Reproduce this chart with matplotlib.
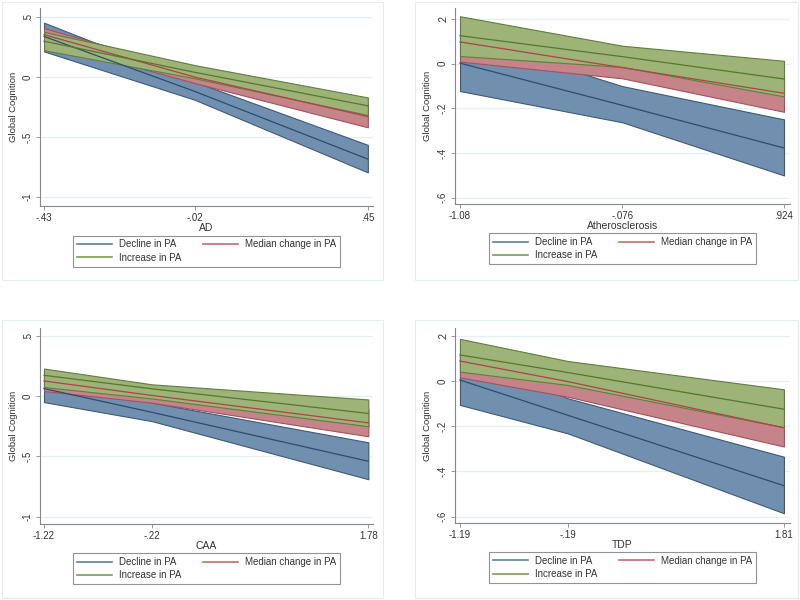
import matplotlib
matplotlib.use("Agg")
import matplotlib.pyplot as plt
from matplotlib.patches import Rectangle
from matplotlib.lines import Line2D

plt.rcParams['font.family'] = ['Liberation Sans', 'DejaVu Sans']

# ---- data ----
groups = ["Decline in PA", "Median change in PA", "Increase in PA"]

ad_x = [-0.43, -0.02, 0.45]
ad_mean = {"dec": [0.34, -0.12, -0.686], "med": [0.355, 0.0, -0.33], "inc": [0.30, 0.04, -0.24]}
ad_lo = {"dec": [0.215, -0.19, -0.797], "med": [0.295, -0.05, -0.42], "inc": [0.225, -0.01, -0.317]}
ad_hi = {"dec": [0.455, -0.04, -0.567], "med": [0.41, 0.05, -0.24], "inc": [0.378, 0.10, -0.17]}

ath_x = [-1.08, -0.076, 0.924]
ath_mean = {"dec": [0.003, -0.186, -0.377], "med": [0.098, -0.017, -0.132], "inc": [0.126, 0.032, -0.068]}
ath_lo = {"dec": [-0.122, -0.262, -0.50], "med": [0.01, -0.065, -0.215], "inc": [0.035, -0.014, -0.146]}
ath_hi = {"dec": [0.128, -0.10, -0.249], "med": [0.186, 0.03, -0.05], "inc": [0.213, 0.081, 0.0135]}

caa_x = [-1.22, -0.22, 1.78]
caa_mean = {"dec": [0.062, -0.135, -0.54], "med": [0.125, 0.005, -0.222], "inc": [0.172, 0.06, -0.144]}
caa_lo = {"dec": [-0.05, -0.208, -0.689], "med": [0.042, -0.055, -0.333], "inc": [0.075, -0.02, -0.25]}
caa_hi = {"dec": [0.174, -0.055, -0.383], "med": [0.21, 0.06, -0.11], "inc": [0.228, 0.097, -0.028]}

tdp_x = [-1.19, -0.19, 1.81]
tdp_mean = {"dec": [0.004, -0.152, -0.463], "med": [0.088, -0.003, -0.207], "inc": [0.115, 0.037, -0.125]}
tdp_lo = {"dec": [-0.106, -0.232, -0.585], "med": [0.016, -0.07, -0.29], "inc": [0.041, -0.018, -0.205]}
tdp_hi = {"dec": [0.114, -0.077, -0.335], "med": [0.16, 0.065, -0.12], "inc": [0.186, 0.088, -0.037]}

fill_col = {"dec": "#7190b0", "med": "#c4848a", "inc": "#9db378"}
edge_col = {"dec": "#3d5a7a", "med": "#a8505a", "inc": "#5f7f3c"}
line_col = {"dec": "#2e4d6e", "med": "#b0424c", "inc": "#56772f"}
leg_col = {"dec": "#5e7fa3", "med": "#c86a72", "inc": "#7d9b54"}


def panel(rect, x, mean, lo, hi, xlabel, yticks, ytick_labels, xlim, ylim):
    ax = fig.add_axes(rect)
    for k in ["dec", "med", "inc"]:
        ax.fill_between(x, lo[k], hi[k], facecolor=fill_col[k],
                        edgecolor=edge_col[k], linewidth=0.8, zorder=2)
    for k in ["dec", "med", "inc"]:
        ax.plot(x, mean[k], color=line_col[k], linewidth=0.9, zorder=3)
    ax.set_xlim(*xlim)
    ax.set_ylim(*ylim)
    ax.set_xticks(x)
    ax.set_xticklabels([("%g" % v).replace("0.", ".") for v in x], fontsize=7, color="#333333")
    ax.set_yticks(yticks)
    ax.set_yticklabels(ytick_labels, fontsize=7, color="#333333", rotation=90, va="center")
    for y in yticks:
        ax.axhline(y, color="#e6eff1", linewidth=0.9, zorder=1)
    ax.set_xlabel(xlabel, fontsize=7.5, color="#333333", labelpad=0)
    ax.set_ylabel("Global Cognition", fontsize=6.8, color="#333333", labelpad=4)
    for s in ["top", "right"]:
        ax.spines[s].set_visible(False)
    for s in ["left", "bottom"]:
        ax.spines[s].set_color("#888888")
        ax.spines[s].set_linewidth(0.8)
    ax.tick_params(length=3, width=0.6, color="#888888", pad=2)
    handles = [Line2D([], [], color=leg_col[k], linewidth=1.2) for k in ["dec", "inc", "med"]]
    labels = [groups[0], groups[2], groups[1]]
    leg = ax.legend(handles, labels, ncol=2, loc="center", bbox_to_anchor=(0.5, -0.228),
                    fontsize=7, frameon=True, fancybox=False, edgecolor="#777777",
                    handlelength=3.6, columnspacing=2.2, labelspacing=0.35,
                    borderpad=0.4, handletextpad=0.7, borderaxespad=0)
    leg.get_frame().set_linewidth(0.8)
    for t in leg.get_texts():
        t.set_color("#333333")
    return ax


fig = plt.figure(figsize=(8, 6), dpi=100)

# light panel frames
for (l, b, w, h) in [(2, 320, 381, 278), (415, 320, 383, 278), (2, 2, 381, 278), (415, 2, 383, 278)]:
    fig.patches.append(Rectangle((l / 800, b / 600), w / 800, h / 600, transform=fig.transFigure,
                                 fill=False, edgecolor="#e3ecef", linewidth=0.8))

panel([40 / 800, 1 - 206 / 600, 333 / 800, 198 / 600], ad_x, ad_mean, ad_lo, ad_hi, "AD",
      [-1, -0.5, 0, 0.5], ["-1", "-.5", "0", ".5"], (-0.441, 0.464), (-1.078, 0.578))
panel([455 / 800, 1 - 204 / 600, 335 / 800, 196 / 600], ath_x, ath_mean, ath_lo, ath_hi, "Atherosclerosis",
      [-0.6, -0.4, -0.2, 0, 0.2], ["-.6", "-.4", "-.2", "0", ".2"], (-1.111, 0.961), (-0.628, 0.25))
panel([40 / 800, 1 - 524 / 600, 333 / 800, 196 / 600], caa_x, caa_mean, caa_lo, caa_hi, "CAA",
      [-1, -0.5, 0, 0.5], ["-1", "-.5", "0", ".5"], (-1.257, 1.823), (-1.06, 0.564))
panel([455 / 800, 1 - 523 / 600, 335 / 800, 195 / 600], tdp_x, tdp_mean, tdp_lo, tdp_hi, "TDP",
      [-0.6, -0.4, -0.2, 0, 0.2], ["-.6", "-.4", "-.2", "0", ".2"], (-1.236, 1.866), (-0.628, 0.234))

fig.savefig("out.png", dpi=100)
